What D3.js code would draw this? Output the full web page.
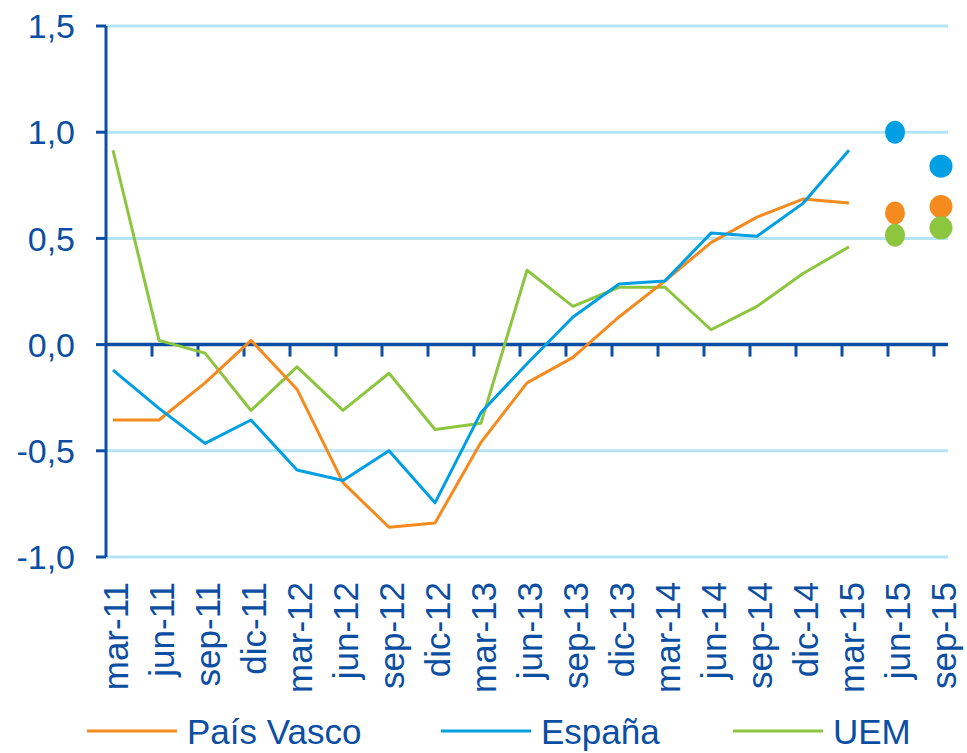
<!DOCTYPE html>
<html>
<head>
<meta charset="utf-8">
<script src="https://cdn.jsdelivr.net/npm/d3@7"></script>
<style>
  body { margin: 0; background: #fff; }
  text { font-family: "Liberation Sans", Arial, sans-serif; fill: #0b4ea2; }
</style>
</head>
<body>
<svg id="chart" width="967" height="753"></svg>
<script>
// categories (quarters)
var periods = ['mar-11', 'jun-11', 'sep-11', 'dic-11', 'mar-12', 'jun-12', 'sep-12', 'dic-12',
  'mar-13', 'jun-13', 'sep-13', 'dic-13', 'mar-14', 'jun-14', 'sep-14', 'dic-14',
  'mar-15', 'jun-15', 'sep-15'];

// observed series (mar-11 .. mar-15)
var paisVasco = [-0.355, -0.355, -0.18, 0.02, -0.21, -0.65, -0.86, -0.84, -0.46, -0.18, -0.06, 0.13,
  0.30, 0.48, 0.60, 0.685, 0.667];
var espana = [-0.12, -0.30, -0.465, -0.355, -0.59, -0.64, -0.50, -0.745, -0.32, -0.09, 0.13, 0.285,
  0.30, 0.525, 0.51, 0.665, 0.915];
var uem = [0.915, 0.02, -0.04, -0.31, -0.105, -0.31, -0.135, -0.40, -0.37, 0.35, 0.18, 0.27,
  0.27, 0.07, 0.18, 0.335, 0.46];

// forecasts (jun-15, sep-15)
var forecastPeriods = ['jun-15', 'sep-15'];
var paisVascoPrev = [0.62, 0.65];
var espanaPrev = [1.0, 0.84];
var uemPrev = [0.515, 0.55];

var yTicks = [1.5, 1.0, 0.5, 0.0, -0.5, -1.0];

var series = [
  { name: 'País Vasco', color: '#f58a1f', values: paisVasco, prev: paisVascoPrev },
  { name: 'España', color: '#009fe3', values: espana, prev: espanaPrev },
  { name: 'UEM', color: '#8cc63f', values: uem, prev: uemPrev }
];

var axisColor = '#0b4ea2';
var gridColor = '#b5e4f7';
// comma decimals, plain hyphen for negatives
var fmt = function (v) { return d3.format('.1f')(v).replace('.', ',').replace('\u2212', '-'); };

var svg = d3.select('#chart');

var x = d3.scalePoint().domain(periods).range([113, 941]);
var y = d3.scaleLinear().domain([-1, 1.5]).range([557, 26]);
var left = 106, right = 948;

// gridlines
svg.append('g').selectAll('line')
  .data(yTicks.filter(function (d) { return d !== 0; }))
  .enter().append('line')
  .attr('x1', left).attr('x2', right)
  .attr('y1', function (d) { return y(d); })
  .attr('y2', function (d) { return y(d); })
  .attr('stroke', gridColor).attr('stroke-width', 3);

// y axis
var yAxis = svg.append('g');
yAxis.append('line')
  .attr('x1', left).attr('x2', left)
  .attr('y1', y(1.5)).attr('y2', y(-1))
  .attr('stroke', axisColor).attr('stroke-width', 3);
yAxis.selectAll('line.tick')
  .data(yTicks).enter().append('line')
  .attr('class', 'tick')
  .attr('x1', left - 10).attr('x2', left)
  .attr('y1', function (d) { return y(d); })
  .attr('y2', function (d) { return y(d); })
  .attr('stroke', axisColor).attr('stroke-width', 3);
yAxis.selectAll('text')
  .data(yTicks).enter().append('text')
  .attr('x', 75)
  .attr('y', function (d) { return y(d); })
  .attr('dy', '0.36em')
  .attr('text-anchor', 'end')
  .style('font-size', '34px')
  .text(fmt);

// x axis at zero
var xAxis = svg.append('g');
xAxis.append('line')
  .attr('x1', left).attr('x2', right)
  .attr('y1', y(0)).attr('y2', y(0))
  .attr('stroke', axisColor).attr('stroke-width', 3.5);
xAxis.selectAll('line.tick')
  .data(periods.slice(1)).enter().append('line')
  .attr('class', 'tick')
  .attr('x1', function (d) { return x(d) - 7; })
  .attr('x2', function (d) { return x(d) - 7; })
  .attr('y1', y(0)).attr('y2', y(0) + 12)
  .attr('stroke', axisColor).attr('stroke-width', 3);

// category labels, rotated
xAxis.selectAll('text')
  .data(periods).enter().append('text')
  .attr('transform', function (d) { return 'translate(' + (x(d) + 2) + ',582) rotate(-90)'; })
  .attr('dy', '0.36em')
  .attr('text-anchor', 'end')
  .style('font-size', '35px')
  .text(function (d) { return d; });

// lines
var line = d3.line()
  .x(function (d, i) { return x(periods[i]); })
  .y(function (d) { return y(d); });

// draw order: UEM bottom, then País Vasco, then España
[series[2], series[0], series[1]].forEach(function (s) {
  svg.append('path')
    .datum(s.values)
    .attr('d', line)
    .attr('fill', 'none')
    .attr('stroke', s.color)
    .attr('stroke-width', 3)
    .attr('stroke-linejoin', 'round');
});

// forecast dots
series.forEach(function (s) {
  svg.append('g').selectAll('ellipse')
    .data(s.prev).enter().append('ellipse')
    .attr('cx', function (d, i) { return x(forecastPeriods[i]); })
    .attr('cy', function (d) { return y(d); })
    .attr('rx', function (d, i) { return i === 0 ? 10 : 11.5; })
    .attr('ry', 11.5)
    .attr('fill', s.color);
});

// legend
var legendX = [87, 441, 733];
var legend = svg.append('g').selectAll('g')
  .data(series).enter().append('g')
  .attr('transform', function (d, i) { return 'translate(' + legendX[i] + ',731)'; });
legend.append('line')
  .attr('x1', 0).attr('x2', 90)
  .attr('stroke', function (d) { return d.color; })
  .attr('stroke-width', 3);
legend.append('text')
  .attr('x', 100)
  .attr('dy', '0.36em')
  .style('font-size', '35px')
  .text(function (d) { return d.name; });
</script>
</body>
</html>
